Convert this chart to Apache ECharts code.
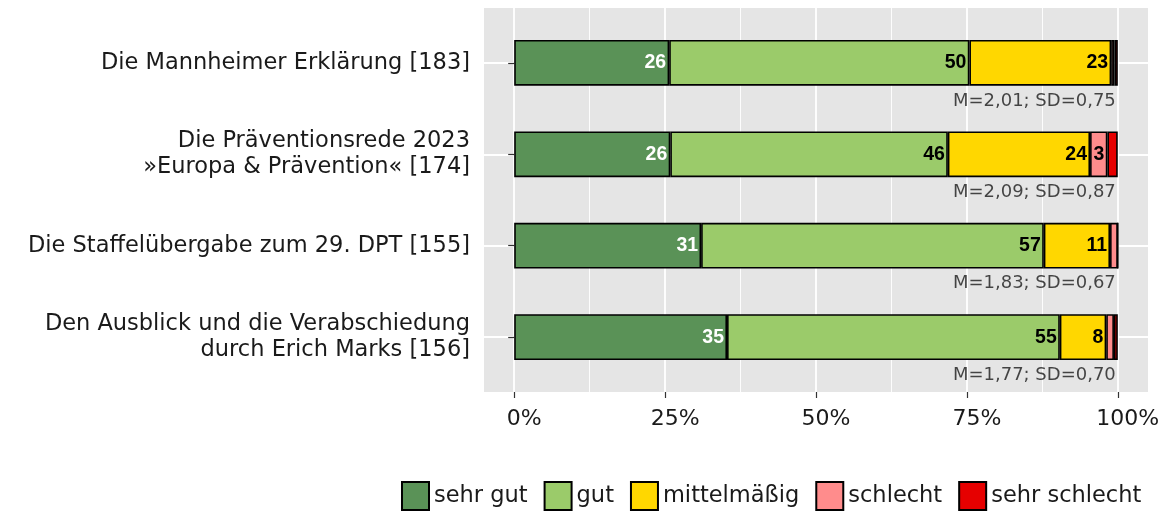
<!DOCTYPE html>
<html>
<head>
<meta charset="utf-8">
<script src="https://cdn.jsdelivr.net/npm/echarts@6/dist/echarts.min.js"></script>
<style>
  html, body { margin: 0; padding: 0; background: #fff; }
  #chart { width: 1173px; height: 513px; }
</style>
</head>
<body>
<div id="chart"></div>
<script>
// Kategorien (Teilnehmerzahl in Klammern)
const categories = [
  'Die Mannheimer Erklärung [183]',
  'Die Präventionsrede 2023\n»Europa & Prävention« [174]',
  'Die Staffelübergabe zum 29. DPT [155]',
  'Den Ausblick und die Verabschiedung\ndurch Erich Marks [156]'
]
// Anteile in Prozent
const sehrGut = [25.68, 25.86, 30.97, 35.26]
const gut = [49.73, 45.98, 56.77, 55.13]
const mittelmaessig = [23.49, 23.56, 10.97, 7.69]
const schlecht = [0.55, 2.87, 1.29, 1.28]
const sehrSchlecht = [0.55, 1.72, 0, 0.64]
// Mittelwert / Standardabweichung
const means = ['2,01', '2,09', '1,83', '1,77']
const sds = ['0,75', '0,87', '0,67', '0,70']
// Achsen
const xTicks = [0, 25, 50, 75, 100]
const xMinor = [12.5, 37.5, 62.5, 87.5]

const font = 'DejaVu Sans'
const levels = [
  { name: 'sehr gut', data: sehrGut, color: '#5A9257', label: '#ffffff' },
  { name: 'gut', data: gut, color: '#9BCB6A', label: '#000000' },
  { name: 'mittelmäßig', data: mittelmaessig, color: '#FFD700', label: '#000000' },
  { name: 'schlecht', data: schlecht, color: '#FF8C8C', label: '#000000' },
  { name: 'sehr schlecht', data: sehrSchlecht, color: '#E60000', label: '#000000' }
]

const chart = echarts.init(document.getElementById('chart'))

// Balken-Serien
const barSeries = levels.map(l => ({
  name: l.name,
  type: 'bar',
  stack: 'total',
  xAxisIndex: 2,
  yAxisIndex: 1,
  barWidth: '50%',
  data: l.data,
  itemStyle: { color: l.color, borderColor: '#000', borderWidth: 1.6 },
  label: {
    show: true,
    position: 'insideRight',
    distance: 3,
    color: l.label,
    fontFamily: 'Liberation Sans',
    fontWeight: 'bold',
    fontSize: 19.5,
    formatter: p => (p.value >= 2 ? Math.round(p.value) : '')
  },
  emphasis: { disabled: true }
}))

const option = {
  animation: false,
  textStyle: { fontFamily: font },
  grid: [
    // Hintergrund-Panel
    { left: 484, width: 664, top: 8, height: 384, show: true, backgroundColor: '#E5E5E5', borderWidth: 0 },
    // Balken
    { left: 484, width: 664, top: 17.14, height: 365.7 }
  ],
  legend: {
    data: levels.map(l => l.name),
    left: 396,
    top: 476,
    icon: 'rect',
    itemWidth: 27,
    itemHeight: 28,
    itemGap: 16,
    textStyle: { fontFamily: font, fontSize: 22.5, color: '#1a1a1a' }
  },
  xAxis: [
    {
      gridIndex: 0, type: 'value', min: -5, max: 105,
      axisLine: { show: false },
      axisTick: { show: true, length: 6, customValues: xTicks, lineStyle: { color: '#333', width: 1.2 } },
      axisLabel: {
        customValues: xTicks, margin: 16, fontSize: 22, color: '#1a1a1a',
        padding: [0, 0, 0, 20], formatter: v => v + '%'
      },
      splitLine: { show: true, lineStyle: { color: '#fff', width: 1.8 } }
    },
    {
      gridIndex: 0, type: 'value', min: -5, max: 105,
      axisLine: { show: false },
      axisTick: { show: false, customValues: xMinor },
      axisLabel: { show: false, customValues: xMinor },
      splitLine: { show: true, lineStyle: { color: '#fff', width: 0.9 } }
    },
    {
      gridIndex: 1, type: 'value', min: -5, max: 105, show: false
    }
  ],
  yAxis: [
    {
      gridIndex: 0, type: 'value', min: 0.4, max: 4.6, inverse: true,
      axisLine: { show: false },
      axisTick: { show: false, customValues: [1, 2, 3, 4] },
      axisLabel: { show: false, customValues: [1, 2, 3, 4] },
      splitLine: { show: true, lineStyle: { color: '#fff', width: 1.8 } }
    },
    {
      gridIndex: 1, type: 'category', data: categories, inverse: true,
      axisLine: { show: false },
      axisTick: { show: true, alignWithLabel: true, length: 6, lineStyle: { color: '#333', width: 1.2 } },
      axisLabel: { margin: 14, fontSize: 22.5, lineHeight: 26, color: '#1a1a1a' },
      splitLine: { show: false }
    }
  ],
  series: [
    ...barSeries,
    {
      // M / SD unter jedem Balken
      name: 'stats',
      type: 'scatter',
      xAxisIndex: 2,
      yAxisIndex: 1,
      symbolSize: 0,
      silent: true,
      data: categories.map((c, i) => [100, i]),
      label: {
        show: true,
        position: 'left',
        distance: 2,
        offset: [0, 38],
        fontFamily: font,
        fontSize: 18,
        color: '#1a1a1a',
        formatter: p => 'M=' + means[p.dataIndex] + '; SD=' + sds[p.dataIndex]
      }
    }
  ]
}

chart.setOption(option)
</script>
</body>
</html>
